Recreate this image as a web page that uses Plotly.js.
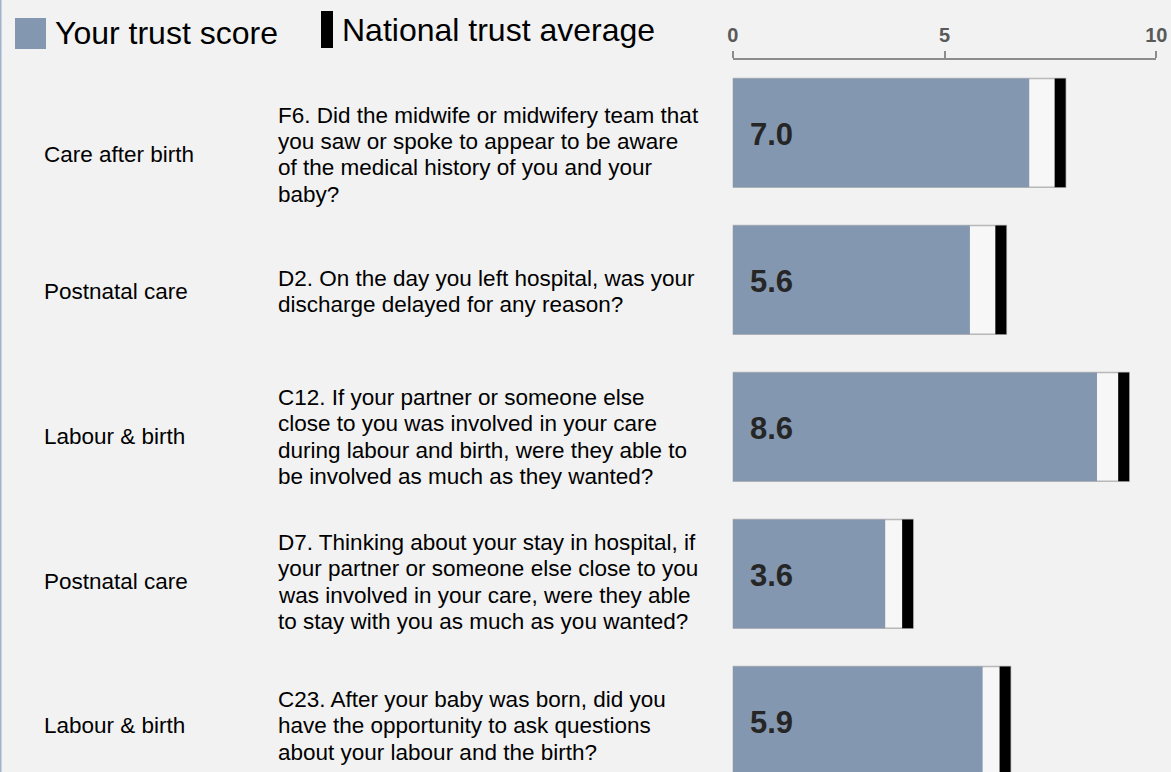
<!DOCTYPE html>
<html>
<head>
<meta charset="utf-8">
<script src="https://cdn.plot.ly/plotly-3.0.1.min.js"></script>
<style>html,body{margin:0;padding:0;background:#f2f2f2;}#chart{width:1171px;height:772px;}</style>
</head>
<body>
<div id="chart"></div>
<script>
// ---- data ----
const sections = ["Care after birth", "Postnatal care", "Labour & birth", "Postnatal care", "Labour & birth"];
const questions = [
  ["F6. Did the midwife or midwifery team that", "you saw or spoke to appear to be aware", "of the medical history of you and your", "baby?"],
  ["D2. On the day you left hospital, was your", "discharge delayed for any reason?"],
  ["C12. If your partner or someone else", "close to you was involved in your care", "during labour and birth, were they able to", "be involved as much as they wanted?"],
  ["D7. Thinking about your stay in hospital, if", "your partner or someone else close to you", "was involved in your care, were they able", "to stay with you as much as you wanted?"],
  ["C23. After your baby was born, did you", "have the opportunity to ask questions", "about your labour and the birth?"]
];
const trustScore = [7.0, 5.6, 8.6, 3.6, 5.9];
const nationalAverage = [7.73, 6.33, 9.23, 4.13, 6.43];
const seriesNames = ["Your trust score", "National trust average"];
const axisTicks = [0, 5, 10];

// ---- style ----
const W = 1171, H = 772;
const FONT = "Liberation Sans, Arial, sans-serif";
const BLUE = "#8497b0";
const markerW = 0.26;
const barW = 0.74;
const labelShift = [-22, -12, -10, -8, -5]; // text block offsets (px)
const lineGap = 26.4;
const TXT = 22.5;
const rows = trustScore.map((_, i) => i);
const py = p => (H - p) / (H - 60);

const traces = [
  { type: "bar", orientation: "h", y: rows, x: nationalAverage.map(v => v + markerW / 2), width: barW,
    marker: { color: "#f7f7f7", line: { color: "#b8b8b8", width: 1.5 } }, hoverinfo: "skip", showlegend: false },
  { type: "bar", orientation: "h", y: rows, x: trustScore, width: barW, name: seriesNames[0],
    marker: { color: BLUE, line: { width: 0 } }, showlegend: false },
  { type: "bar", orientation: "h", y: rows, base: nationalAverage.map(v => v - markerW / 2),
    x: nationalAverage.map(() => markerW), width: barW, name: seriesNames[1],
    marker: { color: "#000000", line: { width: 0 } }, showlegend: false }
];

const annotations = [];
rows.forEach(i => {
  annotations.push({ xref: "paper", yref: "y", x: 42 / W, y: i, xanchor: "left", yanchor: "middle",
    text: sections[i], showarrow: false, yshift: labelShift[i], font: { family: FONT, size: TXT, color: "#000" } });
  const n = questions[i].length;
  questions[i].forEach((line, j) => {
    annotations.push({ xref: "paper", yref: "y", x: 276 / W, y: i, xanchor: "left", yanchor: "middle", align: "left",
      text: line, showarrow: false, yshift: labelShift[i] - (j - (n - 1) / 2) * lineGap,
      font: { family: FONT, size: TXT, color: "#000" } });
  });
  annotations.push({ xref: "x", yref: "y", x: 0, y: i, xanchor: "left", yanchor: "middle", xshift: 15, yshift: -2,
    text: trustScore[i].toFixed(1), showarrow: false, font: { family: FONT, size: 31, color: "#262626", weight: 700 } });
});
annotations.push({ xref: "paper", yref: "paper", x: 53 / W, y: py(33), xanchor: "left", yanchor: "middle",
  text: seriesNames[0], showarrow: false, font: { family: FONT, size: 32, color: "#000" } });
annotations.push({ xref: "paper", yref: "paper", x: 340 / W, y: py(30), xanchor: "left", yanchor: "middle",
  text: seriesNames[1], showarrow: false, font: { family: FONT, size: 32, color: "#000" } });

const shapes = [
  { type: "rect", xref: "paper", yref: "paper", x0: 15 / W, x1: 46 / W, y0: py(49), y1: py(18), fillcolor: BLUE, line: { width: 0 } },
  { type: "rect", xref: "paper", yref: "paper", x0: 321 / W, x1: 333 / W, y0: py(48), y1: py(11), fillcolor: "#000", line: { width: 0 } },
  { type: "line", xref: "paper", yref: "paper", x0: 0.5 / W, x1: 0.5 / W, y0: 0, y1: py(0), line: { color: "#9fb3cc", width: 2 } }
];

const dom = [732.7 / W, 1156.3 / W];
const layout = {
  width: W, height: H,
  margin: { l: 0, r: 0, t: 60, b: 0, pad: 0 },
  paper_bgcolor: "#f2f2f2", plot_bgcolor: "#f2f2f2",
  barmode: "overlay", showlegend: false,
  xaxis: { domain: dom, range: [0, 10], side: "top", tickvals: axisTicks, ticks: "outside", ticklen: 7, tickwidth: 2,
    tickcolor: "#8c8c8c", showline: true, linecolor: "#8c8c8c", linewidth: 2, showgrid: false, zeroline: false,
    ticklabelstandoff: 1, tickfont: { family: FONT, size: 20, color: "#595959", weight: 700 }, fixedrange: true },
  xaxis2: { overlaying: "x", range: [0, 10], side: "top", dtick: 1, tick0: 0, ticks: "inside", ticklen: 4, tickwidth: 2,
    tickcolor: "#8c8c8c", showticklabels: false, showline: false, showgrid: false, zeroline: false, fixedrange: true },
  yaxis: { range: [4.348, -0.495], visible: false, showgrid: false, zeroline: false, fixedrange: true },
  annotations: annotations, shapes: shapes
};

Plotly.newPlot("chart", traces, layout, { displayModeBar: false, staticPlot: true });
</script>
</body>
</html>
